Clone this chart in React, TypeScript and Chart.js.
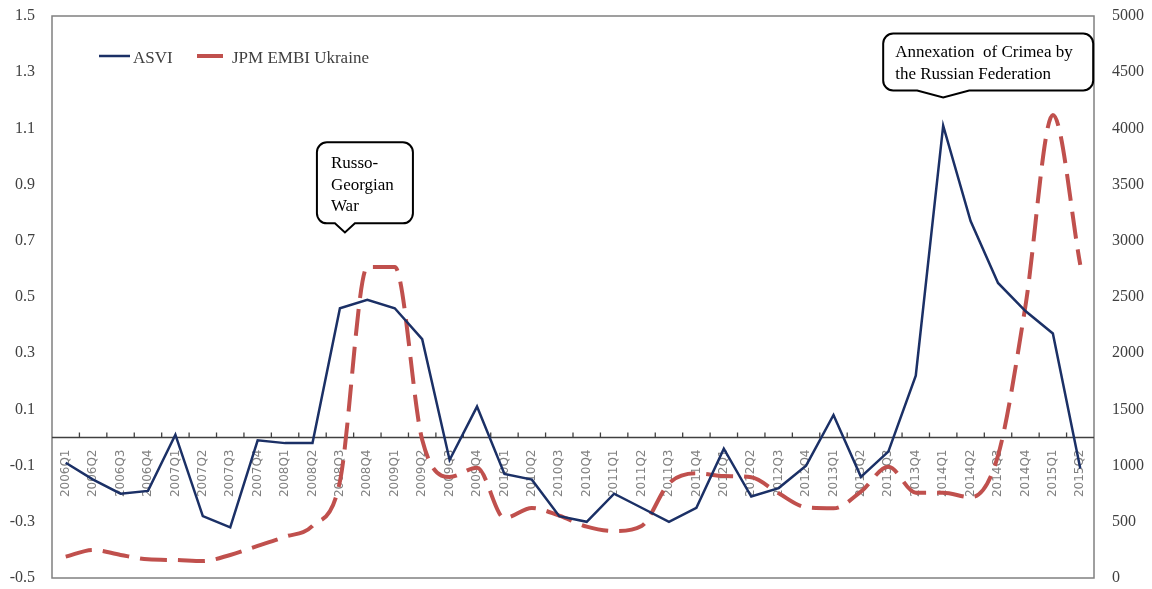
import React, { useEffect, useRef } from 'react';
import { Chart, registerables } from 'chart.js';

Chart.register(...registerables);

const quarters = [
  '2006Q1', '2006Q2', '2006Q3', '2006Q4',
  '2007Q1', '2007Q2', '2007Q3', '2007Q4',
  '2008Q1', '2008Q2', '2008Q3', '2008Q4',
  '2009Q1', '2009Q2', '2009Q3', '2009Q4',
  '2010Q1', '2010Q2', '2010Q3', '2010Q4',
  '2011Q1', '2011Q2', '2011Q3', '2011Q4',
  '2012Q1', '2012Q2', '2012Q3', '2012Q4',
  '2013Q1', '2013Q2', '2013Q3', '2013Q4',
  '2014Q1', '2014Q2', '2014Q3', '2014Q4',
  '2015Q1', '2015Q2',
];

const asvi = [
  -0.09, -0.15, -0.2, -0.19,
  0.01, -0.28, -0.32, -0.01,
  -0.02, -0.02, 0.46, 0.49,
  0.46, 0.35, -0.08, 0.11,
  -0.13, -0.15, -0.28, -0.3,
  -0.2, -0.25, -0.3, -0.25,
  -0.04, -0.21, -0.18, -0.1,
  0.08, -0.14, -0.05, 0.22,
  1.11, 0.77, 0.55, 0.45,
  0.37, -0.11,
];

const embi = [
  190, 250, 205, 166,
  160, 151, 205, 285,
  367, 463, 860, 2767,
  2767, 1230, 899, 981,
  534, 623, 554, 457,
  418, 463, 842, 931,
  907, 896, 753, 629,
  620, 768, 990, 759,
  759, 718, 1090, 2420,
  4119, 2785,
];

const seriesNames = ['ASVI', 'JPM EMBI Ukraine'];
const seriesColors = ['#1b3066', '#c0504d'];

const callouts = [
  { lines: ['Russo-', 'Georgian', 'War'], index: 10, value: 0.73 },
  { lines: ['Annexation  of Crimea by', 'the Russian Federation'], index: 32, value: 1.21 },
];

const SERIF = "'Liberation Serif', 'Times New Roman', serif";

const zeroPad = (s: any) => {
  s.paddingTop = 0;
  s.paddingBottom = 0;
  s.paddingLeft = 0;
  s.paddingRight = 0;
};

const framePlugin = {
  id: 'frameAndAxis',
  beforeDatasetsDraw(chart: any) {
    const { ctx, chartArea } = chart;
    const { left, right, top, bottom } = chartArea;
    const y0 = chart.scales.y.getPixelForValue(0);
    ctx.save();
    ctx.strokeStyle = '#808080';
    ctx.lineWidth = 1.5;
    ctx.strokeRect(left, top, right - left, bottom - top);
    ctx.strokeStyle = '#404040';
    ctx.lineWidth = 1.3;
    ctx.beginPath();
    ctx.moveTo(left, y0);
    ctx.lineTo(right, y0);
    const n = quarters.length;
    const step = (right - left) / n;
    for (let i = 1; i < n; i++) {
      const px = left + step * i;
      ctx.moveTo(px, y0 - 5);
      ctx.lineTo(px, y0);
    }
    ctx.stroke();
    ctx.restore();
  },
  afterDraw(chart: any) {
    const { ctx, chartArea } = chart;
    const { left, top } = chartArea;
    const xs = chart.scales.x;
    const ys = chart.scales.y;
    ctx.save();
    // legend
    const ly = top + 40;
    const items = [
      { x0: left + 47, x1: left + 78, tx: left + 81, w: 2.5 },
      { x0: left + 145, x1: left + 171, tx: left + 180, w: 4 },
    ];
    ctx.font = `17px ${SERIF}`;
    ctx.textBaseline = 'alphabetic';
    items.forEach((it, i) => {
      ctx.strokeStyle = seriesColors[i];
      ctx.lineWidth = it.w;
      ctx.beginPath();
      ctx.moveTo(it.x0, ly);
      ctx.lineTo(it.x1, ly);
      ctx.stroke();
      ctx.fillStyle = '#404040';
      ctx.fillText(seriesNames[i], it.tx, ly + 7);
    });

    // callouts
    const geo = [
      { dx: 5, boxL: -28, boxT: -90, w: 96, h: 81, hw: 10, tx: 14, base: [26, 48, 69] },
      { dx: 0, boxL: -60, boxT: -64, w: 210, h: 57, hw: 26, tx: 12, base: [24, 46] },
    ];
    callouts.forEach((c, i) => {
      const g = geo[i];
      const ax = xs.getPixelForValue(c.index) + g.dx;
      const ay = ys.getPixelForValue(c.value);
      const L = ax + g.boxL;
      const T = ay + g.boxT;
      const R = L + g.w;
      const B = T + g.h;
      const r = 10;
      ctx.beginPath();
      ctx.moveTo(L + r, T);
      ctx.lineTo(R - r, T);
      ctx.arcTo(R, T, R, T + r, r);
      ctx.lineTo(R, B - r);
      ctx.arcTo(R, B, R - r, B, r);
      ctx.lineTo(ax + g.hw, B);
      ctx.lineTo(ax, ay);
      ctx.lineTo(ax - g.hw, B);
      ctx.lineTo(L + r, B);
      ctx.arcTo(L, B, L, B - r, r);
      ctx.lineTo(L, T + r);
      ctx.arcTo(L, T, L + r, T, r);
      ctx.closePath();
      ctx.fillStyle = '#ffffff';
      ctx.fill();
      ctx.strokeStyle = '#000000';
      ctx.lineWidth = 2;
      ctx.stroke();
      ctx.fillStyle = '#000000';
      ctx.font = `17px ${SERIF}`;
      c.lines.forEach((line, k) => {
        ctx.fillText(line, L + g.tx, T + g.base[k]);
      });
    });
    ctx.restore();
  },
};

export default function App() {
  const ref = useRef<HTMLCanvasElement | null>(null);

  useEffect(() => {
    if (!ref.current) return;
    const chart = new Chart(ref.current, {
      type: 'line',
      data: {
        labels: quarters,
        datasets: [
          {
            label: seriesNames[0],
            data: asvi,
            yAxisID: 'y',
            borderColor: seriesColors[0],
            backgroundColor: seriesColors[0],
            borderWidth: 2.5,
            pointRadius: 0,
            tension: 0,
            order: 1,
          },
          {
            label: seriesNames[1],
            data: embi,
            yAxisID: 'y1',
            borderColor: seriesColors[1],
            backgroundColor: seriesColors[1],
            borderWidth: 4,
            borderDash: [27, 11],
            pointRadius: 0,
            cubicInterpolationMode: 'monotone',
            order: 2,
          },
        ],
      },
      options: {
        animation: false,
        responsive: false,
        devicePixelRatio: 1,
        layout: { padding: { top: 16, bottom: 11, left: 0, right: 0 } },
        plugins: {
          legend: { display: false },
          tooltip: { enabled: false },
        },
        scales: {
          x: {
            type: 'category',
            position: { y: 0 },
            offset: true,
            grid: { display: false, drawTicks: false },
            border: { display: false },
            ticks: {
              autoSkip: false,
              minRotation: 90,
              maxRotation: 90,
              padding: 12,
              color: '#808080',
              font: { family: "'DejaVu Sans', sans-serif", size: 12 },
            },
            afterFit: zeroPad,
          },
          y: {
            type: 'linear',
            position: 'left',
            min: -0.5,
            max: 1.5,
            grid: { display: false, drawTicks: false },
            border: { display: false },
            ticks: {
              stepSize: 0.2,
              padding: 17,
              color: '#404040',
              font: { family: SERIF, size: 16 },
              callback: (v: any) => Number(v).toFixed(1),
            },
            afterFit: (s: any) => { s.width = 52; zeroPad(s); },
          },
          y1: {
            type: 'linear',
            position: 'right',
            min: 0,
            max: 5000,
            grid: { display: false, drawTicks: false },
            border: { display: false },
            ticks: {
              stepSize: 500,
              padding: 18,
              color: '#404040',
              font: { family: SERIF, size: 16 },
              callback: (v: any) => String(Math.round(Number(v))),
            },
            afterFit: (s: any) => { s.width = 58; zeroPad(s); },
          },
        },
      },
      plugins: [framePlugin],
    });
    return () => chart.destroy();
  }, []);

  return (
    <div style={{ position: 'absolute', left: 0, top: 0, width: 1152, height: 589, background: '#ffffff' }}>
      <canvas ref={ref} width={1152} height={589} style={{ display: 'block', width: 1152, height: 589 }} />
    </div>
  );
}
